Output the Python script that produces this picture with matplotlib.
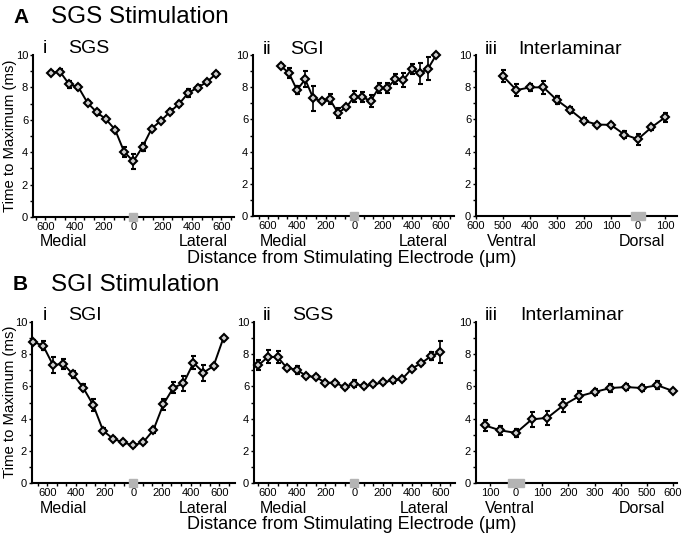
import matplotlib.pyplot as plt
from matplotlib.patches import Rectangle
from matplotlib.ticker import MultipleLocator, FixedLocator, FixedFormatter
import matplotlib.transforms as mtransforms

plt.rcParams['font.family'] = ['Liberation Sans', 'DejaVu Sans']

W, H = 690, 539

# ---- A: SGS stimulation ----
a1_x = [-562.5, -500, -437.5, -375, -312.5, -250, -187.5, -125, -62.5, 0,
        62.5, 125, 187.5, 250, 312.5, 375, 437.5, 500, 562.5]
a1_y = [8.91, 8.97, 8.19, 8.02, 7.05, 6.47, 6.04, 5.40, 4.02, 3.44,
        4.33, 5.46, 5.94, 6.49, 6.99, 7.67, 7.98, 8.33, 8.82]
a1_err = [0.1, 0.15, 0.2, 0.15, 0.1, 0.15, 0.1, 0.1, 0.3, 0.45,
          0.25, 0.1, 0.1, 0.15, 0.15, 0.25, 0.15, 0.15, 0.1]

a2_x = [-513, -456, -399, -342, -285, -228, -171, -114, -57, 0,
        57, 114, 171, 228, 285, 342, 399, 456, 513, 570]
a2_y = [9.32, 8.90, 7.82, 8.49, 7.30, 7.14, 7.26, 6.41, 6.74, 7.41,
        7.39, 7.14, 7.97, 7.93, 8.49, 8.44, 9.11, 8.86, 9.15, 10.0]
a2_err = [0.1, 0.3, 0.25, 0.5, 0.75, 0.15, 0.3, 0.3, 0.1, 0.35,
          0.3, 0.35, 0.3, 0.3, 0.3, 0.45, 0.3, 0.65, 0.7, 0.05]

a3_x = [-500, -450, -400, -350, -300, -250, -200, -150, -100, -50, 0, 50, 100]
a3_y = [8.69, 7.82, 7.99, 7.99, 7.20, 6.58, 5.91, 5.68, 5.66, 5.06, 4.77, 5.50, 6.12]
a3_err = [0.35, 0.35, 0.2, 0.4, 0.25, 0.2, 0.15, 0.1, 0.1, 0.2, 0.35, 0.15, 0.3]

# ---- B: SGI stimulation ----
b1_x = [-700, -630, -560, -490, -420, -350, -280, -210, -140, -70, 0,
        70, 140, 210, 280, 350, 420, 490, 560, 630]
b1_y = [8.76, 8.54, 7.32, 7.41, 6.74, 5.92, 4.85, 3.24, 2.74, 2.52, 2.33,
        2.54, 3.28, 4.89, 5.92, 6.19, 7.46, 6.86, 7.26, 9.03]
b1_err = [0.1, 0.25, 0.5, 0.3, 0.2, 0.2, 0.35, 0.15, 0.1, 0.1, 0.1,
          0.1, 0.2, 0.35, 0.35, 0.45, 0.4, 0.5, 0.1, 0.05]

b2_x = [-668, -601, -534, -468, -401, -334, -267, -200, -134, -67, 0,
        67, 134, 200, 267, 334, 401, 468, 534, 601]
b2_y = [7.31, 7.83, 7.83, 7.14, 7.04, 6.65, 6.58, 6.23, 6.23, 5.96, 6.17,
        6.02, 6.13, 6.25, 6.38, 6.46, 7.10, 7.45, 7.87, 8.14]
b2_err = [0.3, 0.4, 0.35, 0.15, 0.25, 0.15, 0.15, 0.1, 0.1, 0.1, 0.2,
          0.1, 0.1, 0.1, 0.15, 0.1, 0.1, 0.15, 0.25, 0.7]

b3_x = [-120, -60, 0, 60, 120, 180, 240, 300, 360, 420, 480, 540, 600]
b3_y = [3.58, 3.27, 3.11, 3.95, 4.05, 4.82, 5.38, 5.65, 5.90, 5.96, 5.90, 6.07, 5.71]
b3_err = [0.35, 0.3, 0.25, 0.45, 0.45, 0.4, 0.35, 0.2, 0.25, 0.2, 0.2, 0.25, 0.05]

ml_ticks = [-600, -400, -200, 0, 200, 400, 600]
ml_labels = ['600', '400', '200', '0', '200', '400', '600']
a3_ticks = [-600, -500, -400, -300, -200, -100, 0, 100]
a3_labels = ['600', '500', '400', '300', '200', '100', '0', '100']
b3_ticks = [-100, 0, 100, 200, 300, 400, 500, 600]
b3_labels = ['100', '0', '100', '200', '300', '400', '500', '600']


def fx(px):
    return px / W


def fy(py):
    return 1 - py / H


fig = plt.figure(figsize=(6.9, 5.39), dpi=100)


def panel(box, x, y, err, xlim, ticks, labels, minor, bar_w):
    l, t, r, b = box
    ax = fig.add_axes([fx(l), fy(b), (r - l) / W, (b - t) / H])
    ax.errorbar(x, y, yerr=err, color='black', lw=1.4, elinewidth=1.2,
                capsize=1.8, capthick=1.2, marker='D', ms=4, mfc='#d0d0d0',
                mec='black', mew=1.5, zorder=3, clip_on=False)
    ax.set_xlim(xlim)
    ax.set_ylim(0, 10)
    for s in ['top', 'right']:
        ax.spines[s].set_visible(False)
    for s in ['left', 'bottom']:
        ax.spines[s].set_linewidth(1.5)
    ax.xaxis.set_major_locator(FixedLocator(ticks))
    ax.xaxis.set_major_formatter(FixedFormatter(labels))
    if minor:
        ax.xaxis.set_minor_locator(MultipleLocator(minor))
    ax.yaxis.set_major_locator(MultipleLocator(2))
    ax.yaxis.set_minor_locator(MultipleLocator(1))
    ax.tick_params(which='both', direction='out', length=2.5, width=1,
                   labelsize=8, pad=1)
    trans = mtransforms.blended_transform_factory(ax.transData, ax.transAxes)
    ax.add_patch(Rectangle((-bar_w / 2, -0.025), bar_w, 0.05, transform=trans,
                           color='#b4b4b4', clip_on=False, zorder=4))
    return ax


panel((33, 55, 234, 217), a1_x, a1_y, a1_err, (-684, 686), ml_ticks, ml_labels,
      200 / 3, 55)
panel((253, 55, 454, 216), a2_x, a2_y, a2_err, (-705, 694), ml_ticks, ml_labels,
      200 / 3, 55)
panel((476, 55, 677, 216), a3_x, a3_y, a3_err, (-600, 145), a3_ticks, a3_labels,
      None, 50)
panel((32, 322, 235, 483), b1_x, b1_y, b1_err, (-707, 710), ml_ticks, ml_labels,
      200 / 3, 55)
panel((254, 322, 455, 483), b2_x, b2_y, b2_err, (-698, 702), ml_ticks, ml_labels,
      200 / 3, 55)
panel((476, 322, 677, 483), b3_x, b3_y, b3_err, (-153, 615), b3_ticks, b3_labels,
      None, 60)

# y axis labels
for cy in (136, 402):
    fig.text(fx(10), fy(cy), 'Time to Maximum (ms)', fontsize=10.7,
             rotation=90, ha='center', va='center')

# section titles
fig.text(fx(13), fy(23), 'A', fontsize=15, fontweight='bold', va='baseline')
fig.text(fx(51), fy(23), 'SGS Stimulation', fontsize=17.5, va='baseline')
fig.text(fx(13), fy(290), 'B', fontsize=15, fontweight='bold', va='baseline')
fig.text(fx(51), fy(291), 'SGI Stimulation', fontsize=17.5, va='baseline')

# panel labels
panel_titles = [
    (43, 53, 'i', 68, 'SGS'),
    (263, 54, 'ii', 290, 'SGI'),
    (485, 54, 'iii', 518, 'Interlaminar'),
    (43, 320, 'i', 68, 'SGI'),
    (263, 320, 'ii', 292, 'SGS'),
    (485, 320, 'iii', 520, 'Interlaminar'),
]
for nx, by, num, tx, name in panel_titles:
    fig.text(fx(nx), fy(by), num, fontsize=14, va='baseline')
    fig.text(fx(tx), fy(by), name, fontsize=14, va='baseline')

# direction labels
dir_labels = [
    (40, 228, 246, 'Medial', 'Lateral'),
    (260, 448, 246, 'Medial', 'Lateral'),
    (487, 665, 246, 'Ventral', 'Dorsal'),
    (40, 228, 513, 'Medial', 'Lateral'),
    (260, 449, 513, 'Medial', 'Lateral'),
    (485, 665, 513, 'Ventral', 'Dorsal'),
]
for lx, rx, by, left, right in dir_labels:
    fig.text(fx(lx), fy(by), left, fontsize=11.5, va='baseline', ha='left')
    fig.text(fx(rx), fy(by), right, fontsize=11.5, va='baseline', ha='right')

fig.text(fx(352), fy(263), 'Distance from Stimulating Electrode (\u03bcm)',
         fontsize=13, ha='center', va='baseline')
fig.text(fx(352), fy(529), 'Distance from Stimulating Electrode (\u03bcm)',
         fontsize=13, ha='center', va='baseline')

fig.savefig('out.png', dpi=100)
